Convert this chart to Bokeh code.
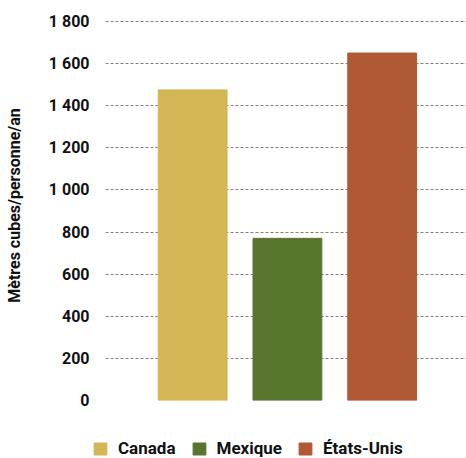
from bokeh.plotting import figure
from bokeh.layouts import column, row
from bokeh.models import ColumnDataSource, FixedTicker, Range1d, Legend, LegendItem
from bokeh.embed import file_html
from bokeh.resources import INLINE

categories = ["Canada", "Mexique", "États-Unis"]
values = [1475, 770, 1650]
colors = ["#D4B754", "#58752E", "#B05834"]
y_ticks = [0, 200, 400, 600, 800, 1000, 1200, 1400, 1600, 1800]
y_title = "Mètres cubes/personne/an"

FONT = "Roboto"

src = ColumnDataSource(dict(
    x=list(range(1, len(categories) + 1)),
    top=values,
    color=colors,
    category=categories,
))

p = figure(width=466, height=414, output_backend="svg", toolbar_location=None,
           x_range=Range1d(0.08, 3.89), y_range=Range1d(0, 1852),
           min_border_left=105, min_border_right=0, min_border_top=10,
           min_border_bottom=14)
p.outline_line_color = None
p.background_fill_color = "white"

p.vbar(x="x", top="top", bottom=0, width=0.726, color="color", source=src)

p.xaxis.visible = False
p.xgrid.grid_line_color = None
p.ygrid.grid_line_color = "#808080"
p.ygrid.grid_line_dash = "3 2"
p.ygrid.grid_line_width = 1.2
p.ygrid.ticker = FixedTicker(ticks=y_ticks)

ax = p.yaxis[0]
ax.ticker = FixedTicker(ticks=y_ticks)
ax.major_label_overrides = {v: f"{v:,}".replace(",", " ") for v in y_ticks}
ax.axis_line_color = None
ax.major_tick_line_color = None
ax.minor_tick_line_color = None
ax.major_label_standoff = 10
ax.major_label_text_font = FONT
ax.major_label_text_font_style = "bold"
ax.major_label_text_font_size = "16px"
ax.major_label_text_color = "#111111"
ax.axis_label = y_title
ax.axis_label_text_font = FONT
ax.axis_label_text_font_style = "bold"
ax.axis_label_text_font_size = "16px"
ax.axis_label_text_color = "#111111"
ax.axis_label_standoff = 22

# legend strip below the chart
lf = figure(width=466, height=44, output_backend="svg", toolbar_location=None,
            x_range=Range1d(0, 1), y_range=Range1d(0, 1),
            x_axis_type=None, y_axis_type=None,
            min_border_left=0, min_border_right=0, min_border_top=0,
            min_border_bottom=0)
lf.outline_line_color = None
lf.xgrid.visible = False
lf.ygrid.visible = False
items = []
for i, cat in enumerate(categories):
    r = lf.vbar(x=[50], top=[values[i]], bottom=0, width=0.1, color=colors[i])
    items.append(LegendItem(label=cat, renderers=[r]))
lg = Legend(items=items, orientation="horizontal", location=(92, 0),
            padding=0, margin=0, spacing=15, glyph_width=16, glyph_height=15,
            label_standoff=10, border_line_color=None, background_fill_alpha=0,
            label_text_font=FONT, label_text_font_style="bold",
            label_text_font_size="17px", label_text_color="#111111")
lf.add_layout(lg, "center")

layout = column(p, row(lf), spacing=0)
open("out.html", "w").write(file_html(layout, INLINE))
